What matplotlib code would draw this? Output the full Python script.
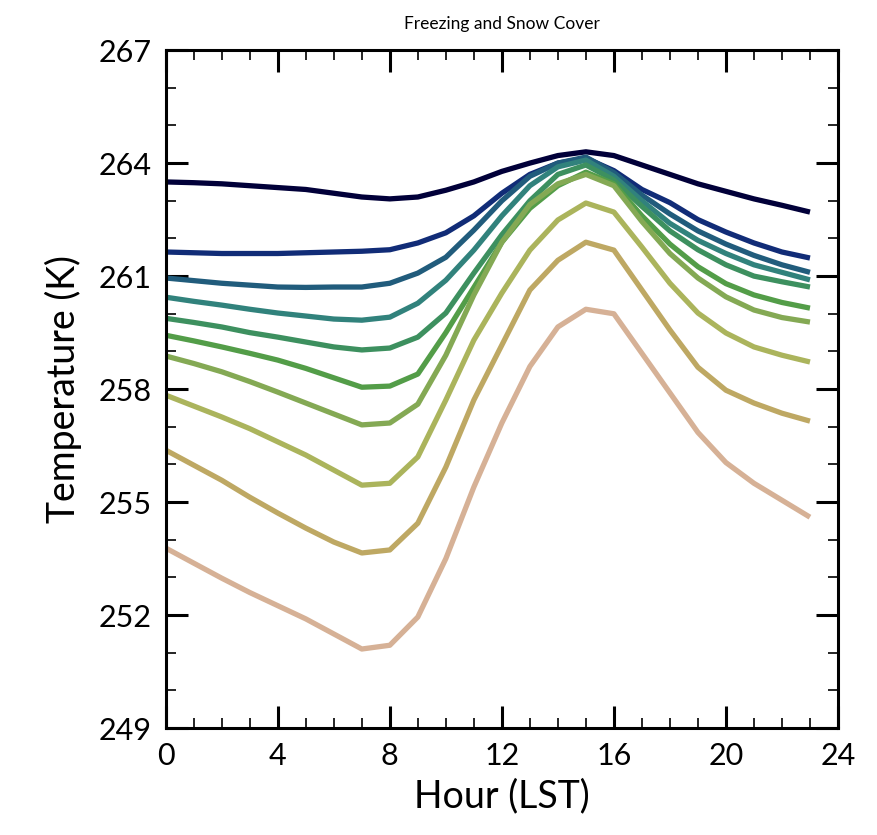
import numpy as np
import matplotlib.pyplot as plt
from matplotlib.ticker import MultipleLocator

hours = list(range(24))

t1 = [263.5, 263.48, 263.45, 263.4, 263.35, 263.3, 263.2, 263.1, 263.05, 263.1, 263.28, 263.5,
      263.78, 264.0, 264.2, 264.3, 264.2, 263.95, 263.7, 263.45, 263.25, 263.05, 262.88, 262.7]
t2 = [261.64, 261.62, 261.6, 261.6, 261.6, 261.62, 261.64, 261.66, 261.7, 261.88, 262.15, 262.6,
      263.2, 263.7, 264.0, 264.13, 263.8, 263.3, 262.95, 262.5, 262.17, 261.88, 261.64, 261.48]
t3 = [260.95, 260.88, 260.81, 260.76, 260.71, 260.7, 260.71, 260.71, 260.81, 261.08, 261.5, 262.22,
      263.0, 263.65, 264.0, 264.16, 263.75, 263.15, 262.65, 262.2, 261.85, 261.55, 261.3, 261.1]
t4 = [260.44, 260.33, 260.23, 260.12, 260.02, 259.94, 259.86, 259.83, 259.91, 260.28, 260.89, 261.69,
      262.6, 263.4, 263.9, 264.08, 263.65, 263.0, 262.4, 261.95, 261.6, 261.3, 261.1, 260.9]
t5 = [259.88, 259.77, 259.65, 259.5, 259.38, 259.25, 259.12, 259.04, 259.09, 259.38, 260.02, 261.08,
      262.1, 263.0, 263.7, 263.95, 263.55, 262.85, 262.2, 261.7, 261.3, 261.0, 260.85, 260.71]
t6 = [259.43, 259.28, 259.12, 258.95, 258.77, 258.55, 258.3, 258.05, 258.08, 258.4, 259.5, 260.7,
      261.9, 262.8, 263.4, 263.76, 263.45, 262.6, 261.85, 261.25, 260.8, 260.5, 260.3, 260.15]
t7 = [258.88, 258.68, 258.46, 258.2, 257.92, 257.63, 257.34, 257.05, 257.1, 257.6, 258.9, 260.5,
      261.9, 262.9, 263.45, 263.7, 263.4, 262.45, 261.6, 260.95, 260.45, 260.1, 259.9, 259.78]
t8 = [257.84, 257.55, 257.26, 256.95, 256.6, 256.25, 255.85, 255.45, 255.5, 256.2, 257.71, 259.3,
      260.55, 261.69, 262.49, 262.94, 262.7, 261.77, 260.81, 260.02, 259.49, 259.12, 258.9, 258.72]
t9 = [256.38, 255.98, 255.58, 255.13, 254.71, 254.31, 253.94, 253.65, 253.73, 254.44, 255.93, 257.71,
      259.17, 260.63, 261.42, 261.9, 261.69, 260.63, 259.57, 258.58, 257.97, 257.63, 257.36, 257.15]
t10 = [253.78, 253.38, 252.98, 252.6, 252.25, 251.9, 251.5, 251.1, 251.2, 251.95, 253.5, 255.4,
       257.1, 258.6, 259.65, 260.12, 260.0, 258.95, 257.9, 256.85, 256.05, 255.5, 255.05, 254.6]

series = [t1, t2, t3, t4, t5, t6, t7, t8, t9, t10]
colors = plt.cm.gist_earth(np.linspace(0.01, 0.86, len(series)))

plt.rcParams['font.family'] = ['Lato', 'DejaVu Sans']

fig = plt.figure(figsize=(8.77, 8.35), dpi=100)
ax = fig.add_axes([0.189, 0.128, 0.7665, 0.812])

for t, c in zip(series, colors):
    ax.plot(hours, t, color=c, lw=3.8, solid_capstyle='butt', solid_joinstyle='round')

ax.set_xlim(0, 24)
ax.set_ylim(249, 267)
ax.xaxis.set_major_locator(MultipleLocator(4))
ax.xaxis.set_minor_locator(MultipleLocator(1))
ax.yaxis.set_major_locator(MultipleLocator(3))
ax.yaxis.set_minor_locator(MultipleLocator(1))
ax.tick_params(which='both', direction='in', top=True, right=True)
ax.tick_params(which='major', length=16, width=2.2, labelsize=22, pad=10)
ax.tick_params(which='minor', length=7, width=1.2)
for s in ax.spines.values():
    s.set_linewidth(2.2)

ax.set_xlabel("Hour (LST)", fontsize=27, labelpad=6)
ax.set_ylabel("Temperature (K)", fontsize=27, labelpad=12)
ax.set_title("Freezing and Snow Cover", fontsize=12.5, pad=15)

fig.savefig("out.png", dpi=100)
